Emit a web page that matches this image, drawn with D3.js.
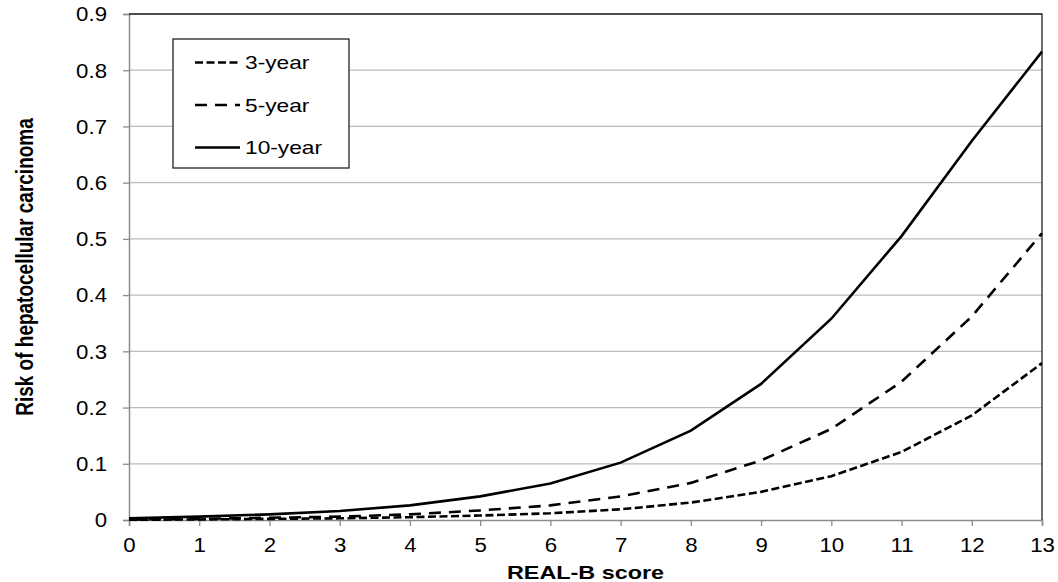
<!DOCTYPE html>
<html>
<head>
<meta charset="utf-8">
<script src="https://cdn.jsdelivr.net/npm/d3@7"></script>
<style>
  body { margin: 0; background: #fff; }
  text { font-family: "Liberation Sans", Arial, sans-serif; }
</style>
</head>
<body>
<div id="chart"></div>
<script>
// data
var scores = [0, 1, 2, 3, 4, 5, 6, 7, 8, 9, 10, 11, 12, 13];
var risk3 = [0.0005, 0.001, 0.002, 0.003, 0.005, 0.008, 0.012, 0.019, 0.031, 0.050, 0.078, 0.121, 0.186, 0.279];
var risk5 = [0.001, 0.002, 0.004, 0.006, 0.010, 0.017, 0.026, 0.042, 0.066, 0.106, 0.162, 0.246, 0.362, 0.510];
var risk10 = [0.003, 0.006, 0.010, 0.016, 0.026, 0.042, 0.065, 0.102, 0.159, 0.242, 0.358, 0.505, 0.674, 0.833];
var yTicks = [0, 0.1, 0.2, 0.3, 0.4, 0.5, 0.6, 0.7, 0.8, 0.9];
var seriesNames = ["3-year", "5-year", "10-year"];
var dashes = ["8,3.5", "12,8", null];

var margin = {top: 14, right: 16, bottom: 62, left: 129};
var width = 1058 - margin.left - margin.right,
    height = 582 - margin.top - margin.bottom;

// the original picture is a bit stretched sideways, so text is widened too
var tickStretch = 1.14, titleStretch = 1.23, legendStretch = 1.3;

var svg = d3.select("#chart")
  .append("svg")
    .attr("width", 1058)
    .attr("height", 582)
  .append("g")
    .attr("transform", "translate(" + margin.left + "," + margin.top + ")");

var x = d3.scaleLinear().domain([0, 13]).range([0, width]);
var y = d3.scaleLinear().domain([0, 0.9]).range([height, 0]);

// grid lines
svg.append("g")
  .selectAll("line")
  .data(yTicks.slice(1))
  .enter()
    .append("line")
    .attr("x1", 0)
    .attr("x2", width)
    .attr("y1", d => y(d))
    .attr("y2", d => y(d))
    .attr("stroke", "#bdbdbd")
    .attr("stroke-width", 1.3);

// Y axis
var yAxis = svg.append("g")
  .call(d3.axisLeft(y)
    .tickValues(yTicks)
    .tickFormat(d => d === 0 ? "0" : d3.format(".1f")(d))
    .tickSize(6));
yAxis.select(".domain").attr("stroke", "#8c8c8c").attr("stroke-width", 1.5);
yAxis.selectAll(".tick line").attr("stroke", "#8c8c8c").attr("stroke-width", 1.3);
yAxis.selectAll("text")
  .attr("x", 0)
  .attr("dy", "0.35em")
  .attr("transform", "translate(-22,0) scale(" + tickStretch + ",1)")
  .style("font-size", "19.5px")
  .attr("fill", "#000");

// X axis
var xAxis = svg.append("g")
  .attr("transform", "translate(0," + height + ")")
  .call(d3.axisBottom(x)
    .tickValues(scores)
    .tickFormat(d3.format("d"))
    .tickSize(6));
xAxis.select(".domain").attr("stroke", "#8c8c8c").attr("stroke-width", 1.5);
xAxis.selectAll(".tick line").attr("stroke", "#8c8c8c").attr("stroke-width", 1.3);
xAxis.selectAll("text")
  .attr("y", 32)
  .attr("dy", null)
  .attr("transform", "scale(" + tickStretch + ",1)")
  .style("font-size", "19.5px")
  .attr("fill", "#000");

// top and right border
svg.append("path")
  .attr("d", "M0,0H" + width + "V" + height)
  .attr("fill", "none")
  .attr("stroke", "#222")
  .attr("stroke-width", 1.3);

// lines
var line = d3.line()
  .x((d, i) => x(scores[i]))
  .y(d => y(d));

[risk3, risk5, risk10].forEach((s, i) => {
  svg.append("path")
    .datum(s)
    .attr("d", line)
    .attr("fill", "none")
    .attr("stroke", "#000")
    .attr("stroke-width", 2.6)
    .attr("stroke-dasharray", dashes[i]);
});

// legend
var legend = svg.append("g")
  .attr("transform", "translate(" + (173 - margin.left) + "," + (39 - margin.top) + ")");

legend.append("rect")
  .attr("width", 176)
  .attr("height", 129)
  .attr("fill", "#fff")
  .attr("stroke", "#222")
  .attr("stroke-width", 1.3);

seriesNames.forEach((name, i) => {
  var ly = 23.5 + i * 42.5;
  legend.append("line")
    .attr("x1", 22)
    .attr("x2", 67)
    .attr("y1", ly)
    .attr("y2", ly)
    .attr("stroke", "#000")
    .attr("stroke-width", 2.6)
    .attr("stroke-dasharray", dashes[i]);
  legend.append("text")
    .attr("transform", "translate(72," + (ly + 6.5) + ") scale(" + legendStretch + ",1)")
    .style("font-size", "17.5px")
    .text(name);
});

// axis titles
svg.append("text")
  .attr("transform", "translate(" + (width / 2) + "," + (height + 59) + ") scale(" + titleStretch + ",1)")
  .style("text-anchor", "middle")
  .style("font-size", "19px")
  .style("font-weight", "bold")
  .text("REAL-B score");

svg.append("text")
  .attr("transform", "translate(" + (33 - margin.left) + "," + (height / 2) + ") scale(" + titleStretch + ",1) rotate(-90)")
  .style("text-anchor", "middle")
  .style("font-size", "19px")
  .style("font-weight", "bold")
  .text("Risk of hepatocellular carcinoma");
</script>
</body>
</html>
